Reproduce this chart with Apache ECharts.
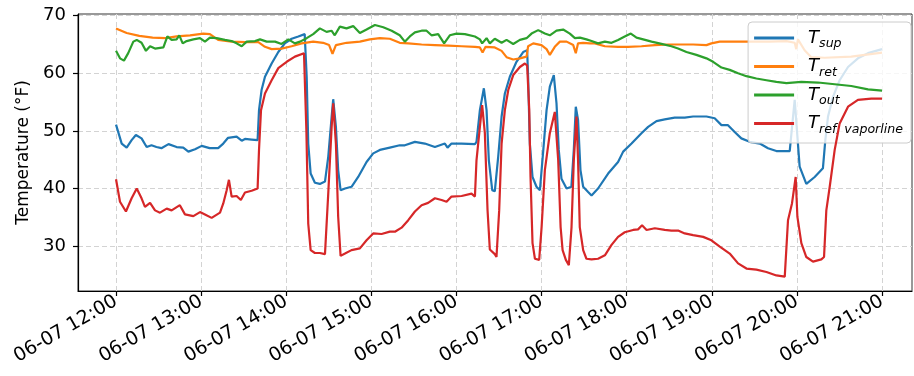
<!DOCTYPE html>
<html>
<head>
<meta charset="utf-8">
<script src="https://cdn.jsdelivr.net/npm/echarts@6/dist/echarts.min.js"></script>
<style>
  html, body { margin: 0; padding: 0; background: #ffffff; }
  #chart { width: 914px; height: 376px; }
</style>
</head>
<body>
<div id="chart"></div>
<script>
// Time is given in minutes after 06-07 12:00.
const hourTicks = [0, 60, 120, 180, 240, 300, 360, 420, 480, 540];
const hourLabels = ['06-07 12:00', '06-07 13:00', '06-07 14:00', '06-07 15:00', '06-07 16:00',
                    '06-07 17:00', '06-07 18:00', '06-07 19:00', '06-07 20:00', '06-07 21:00'];
const tempTicks = [30, 40, 50, 60, 70];

const seriesNames = ['T_sup', 'T_ret', 'T_out', 'T_ref,vaporline'];
const legendSubs = ['sup', 'ret', 'out', 'ref, vaporline'];

// Supply temperature
const tSup = [0,4,7.5,11,14,18,21.6,25,28.5,32,37,42.7,47.4,51,55.7,60.4,66,72,75.6,79,85,88.6,90.9,95.6,99.8,100.8,102.6,105,109.7,114.4,119,123.8,128.5,133,134.4,135.5,137.2,140.2,143.7,147.3,149.6,152,153.1,155,156.6,158.3,161.4,166,170.7,176.6,181.3,186,193,200,203.6,210.7,217.7,224.8,231.8,233.7,236.5,243.6,253,254.1,256.5,259.3,261.2,262.8,265.2,267,269.4,271.8,274.1,277.6,282.3,287,289.8,290.5,291.7,293.6,296.4,298.8,301,303.5,305.8,308.6,310.5,312.1,314,317.6,321,322.7,324.1,325.7,327.4,329.3,332.8,335.2,339.8,346.9,353.9,357.5,363.4,370.4,375.1,381,386.8,393.8,400.9,406.8,416.2,422,426.8,431.4,436.1,440.8,446.7,453.8,459.6,465.5,472.6,474.9,478.4,481.9,486.6,492.5,498.3,500,501.9,505.4,510.1,516,523,530.1,540];
const vSup = [51.1,47.8,47.1,48.4,49.3,48.7,47.2,47.5,47.2,47,47.7,47.2,47.1,46.4,46.8,47.4,47,47,47.8,48.8,49,48.3,48.6,48.5,48.4,53.6,57.1,59.4,61.7,63.7,65.2,66,66.4,66.8,59.4,47.8,42.6,41,40.8,41.2,45.5,52.5,55.5,50.7,43.2,39.7,40,40.3,42,44.6,46.1,46.7,47.1,47.5,47.5,48.1,47.8,47.2,47.8,47.1,47.8,47.8,47.7,48.1,53.6,57.4,53.6,44.9,39.7,39.5,45.5,52.5,56.5,59.4,62,63.7,64,59.4,47.8,42,40.3,39.7,46.1,53.6,57.7,59.7,54.8,46.7,41.7,40,40.3,46.7,54.2,51.9,43.2,40.3,39.4,38.8,40,42.6,44.6,46.4,47.8,49.6,50.7,51.7,52,52.3,52.3,52.5,52.5,52.2,51,51,49.8,48.7,48.1,47.8,47,46.5,46.5,46.5,55.4,43.8,40.8,42,43.5,48.4,52.5,55.9,58.8,61.1,62.6,63.5,64.2];

// Return temperature
const tRet = [0,7.5,16.4,25.8,35,42.7,52.2,61.5,66.2,72,81.5,90.9,100.3,105,109.7,116.7,123.8,130.8,139,146,150.2,152.6,155,162.5,171.9,178.9,186,193,200,206,215.4,224.8,234.2,243.6,253,256.5,258.4,260.5,267,271.8,275.3,280,284.7,289.4,290.5,294.1,299.9,303.5,305.8,309.3,312.9,317.6,322.3,324.1,325.7,329.3,334,337.5,344.6,353.9,361,370.4,379.8,389.2,400.9,406.8,416.2,419.7,425.6,437.3,449.1,460.8,472.6,478.4,479.5,480.7,485.4,490.1,499.5,518.3,540];
const vRet = [67.8,67,66.5,66.2,66.1,66.4,66.6,66.9,66.8,65.8,65.5,65.4,65.4,64.6,64.2,64.3,64.7,65.2,65.5,65.3,64.9,63.4,64.9,65.3,65.5,65.9,66.1,66,65.3,65.2,65,64.9,64.8,64.7,64.6,64.5,63.6,64.6,64.5,63.9,62.8,62.4,62.6,62.9,64.7,65.2,64.9,64.2,63.2,64.6,65.5,65.5,64.9,63.5,65.2,65.3,65.2,65.2,64.7,64.6,64.6,64.7,64.9,65,65,65,64.9,65.2,65.5,65.5,65.5,65.5,65.6,65.3,64.2,65.9,64,62.8,62.7,62.9,63.6];

// Outdoor temperature
const tOut = [0,2.8,5.6,8.6,12.2,14.6,18,21.1,24,27.5,33.4,36.2,39.2,42.7,44.6,47,49.8,54.5,59.2,62.7,66.2,70.9,76.8,81.5,85,88.6,92.1,98,101.5,106.2,112.1,116.7,121.5,126.1,129.7,134.4,139,143.7,148.4,151.9,154.2,157.8,162.5,167.2,171.9,176.6,182.5,188.4,194.3,200,203.6,207.1,210.7,215.4,218.9,222.4,227.1,231.3,235.3,240,245.9,253,256.5,258.1,261.2,263.5,267,271.8,275.3,280,284.7,289.4,292.9,297.6,302.3,305.8,310.5,315.2,319.9,323.5,327,331.6,335.2,339.8,344.6,349.3,353.9,358.6,362.9,366.9,371.6,377.5,384.5,391.5,396.2,402.1,409.1,416.2,420.9,426.8,432.6,438.5,444.4,451.4,458.5,465.5,472.6,483.1,494.9,506.6,518.3,530.1,540];
const vOut = [63.9,62.6,62.2,63.5,65.5,65.8,65.3,63.9,64.7,64.3,64.5,66.4,65.8,65.9,66.6,65.2,65.6,65.9,66.1,65.5,66.2,66.1,65.8,65.6,65.2,64.7,65.5,65.6,65.9,65.5,65.5,65.1,65.9,65.2,65.5,66.1,66.8,67.8,67.2,67.4,66.6,68.1,67.8,68.2,67,67.6,68.4,68,67.4,66.6,65.5,66.4,67.1,67.4,67.4,66.6,66.8,65.2,66.6,66.9,66.8,66.4,65.9,65.2,66.1,65.2,66,65.3,65.8,65.1,65.8,66.1,66.9,67.5,66.9,66.6,67.4,67.6,66.9,66.1,66.2,65.9,65.6,65.2,65.5,65.3,65.8,66.4,66.9,66.2,65.9,65.5,65.1,64.7,64.3,63.7,63.2,62.6,62,61,60.6,60,59.5,59.1,58.8,58.5,58.3,58.5,58.4,58.1,57.8,57.2,57];

// Refrigerant vapor-line temperature
const tRef = [0,2.8,7,11,14.6,18,20.4,24,27.5,31,35.7,39.2,45,48.6,54.5,59.2,62.7,67.4,73.3,75.6,78,79.6,81.5,85,88,90.9,95.6,99.8,100.8,102.2,105,109.7,114.4,120.3,126.1,132.5,134.2,135.5,137.2,140.2,143.7,147.3,149.6,152,153.1,155,156.6,158.3,161.4,166,171.9,176.6,181.3,187.2,193,196.6,201.3,206,210.7,215.4,220,224.8,229.5,233,236.5,243.6,250.6,253,254.1,256.5,258.1,260,261.9,263.5,267,268.2,270.1,271.8,274.1,276.5,280,284.7,288.2,289.8,291.3,292.2,293.6,295.3,298.3,300,302.3,305.8,309.3,311.7,313.4,314.8,317.1,319.2,321.1,322.7,324.6,325.7,326.9,329.3,331.6,335.2,339.8,344.6,349.3,353.9,358.6,364.5,368,370.8,374,379.8,386.8,391.5,396.2,400.9,406.8,413.9,419.7,425.6,432.6,438.5,444.4,451.4,458.5,465.5,471.4,473.7,476.5,479.1,480.3,483.1,486.6,491.3,497.2,499.1,500.7,503.1,506.6,510.1,516,523,532.4,540];
const vRef = [41.6,37.7,36,38.3,40,38.3,36.8,37.5,36.2,35.8,36.5,36.2,37.1,35.5,35.2,35.9,35.5,34.9,35.8,37.4,39.7,41.5,38.6,38.7,38,39.3,39.6,40,46.7,53.6,56.5,58.8,60.9,62,62.9,63.5,50,33.9,29.3,28.8,28.8,28.6,39.1,50.7,54.8,47.8,35.1,28.3,28.7,29.3,29.6,31,32.2,32.1,32.5,32.5,33.2,34.5,36,37.1,37.5,38.3,38,37.7,38.6,38.7,39.1,38.6,44.9,50.7,54.5,49.6,36.2,29.4,28.6,28.1,36.2,47.8,53.6,57.1,59.7,61.1,61.7,61.4,53.6,42,30.5,27.8,27.6,33.3,43.2,49.6,53.3,44.9,33.3,29.3,27.6,26.7,33.3,44.9,52.5,44.9,33.3,29.3,27.8,27.7,27.8,28.4,30.2,31.6,32.4,32.8,32.9,33.6,32.8,33.1,32.8,32.7,32.7,32.2,31.9,31.6,31,29.9,28.7,27,26.1,25.9,25.5,24.9,24.7,34.5,37.4,42,35.1,30.5,28.1,27.3,27.7,28.1,36.2,40.3,46.7,51.3,54.2,55.4,55.6,55.6];

const colors = ['#1f77b4', '#ff7f0e', '#2ca02c', '#d62728'];
const times = [tSup, tRet, tOut, tRef];
const values = [vSup, vRet, vOut, vRef];

const FONT = 'DejaVu Sans';

function pairs(t, v) {
  return t.map((x, i) => [x, v[i]]);
}

const chart = echarts.init(document.getElementById('chart'), null, { renderer: 'canvas' });

const gridDash = { color: '#d3d3d3', width: 1, type: [5, 3] };

chart.setOption({
  animation: false,
  backgroundColor: '#ffffff',
  grid: {
    left: 78, right: 2, top: 14, bottom: 85,
    show: true, borderColor: '#333333', borderWidth: 1, backgroundColor: 'transparent'
  },
  xAxis: {
    type: 'value',
    min: -26.8,
    max: 561.1,
    axisLine: { show: true, onZero: false, lineStyle: { color: '#000000', width: 1.2 } },
    axisTick: { show: true, customValues: hourTicks, length: 5, lineStyle: { color: '#000000', width: 1.2 } },
    splitLine: { show: true, customValues: hourTicks, lineStyle: gridDash },
    axisLabel: {
      customValues: hourTicks,
      rotate: 30,
      margin: 9,
      fontFamily: FONT,
      fontSize: 19,
      color: '#000000',
      formatter: v => hourLabels[hourTicks.indexOf(v)]
    }
  },
  yAxis: {
    type: 'value',
    min: 22.2,
    max: 70.3,
    name: 'Temperature (°F)',
    nameLocation: 'middle',
    nameGap: 46,
    nameTextStyle: { fontFamily: FONT, fontSize: 17, color: '#000000' },
    axisLine: { show: true, onZero: false, lineStyle: { color: '#000000', width: 1.2 } },
    axisTick: { show: true, customValues: tempTicks, length: 5, lineStyle: { color: '#000000', width: 1.2 } },
    splitLine: { show: true, customValues: tempTicks, lineStyle: gridDash },
    axisLabel: {
      customValues: tempTicks,
      margin: 12,
      fontFamily: FONT,
      fontSize: 18,
      color: '#000000'
    }
  },
  legend: {
    orient: 'vertical',
    right: 3,
    top: 22,
    data: seriesNames,
    icon: 'rect',
    backgroundColor: 'rgba(255,255,255,0.8)',
    borderColor: '#cccccc',
    borderWidth: 1,
    borderRadius: 4,
    padding: [7, 8, 7, 6],
    itemWidth: 40,
    itemHeight: 3,
    itemGap: 7,
    formatter: name => '{t|T}{s|' + legendSubs[seriesNames.indexOf(name)] + '}',
    textStyle: {
      color: '#000000',
      rich: {
        t: { fontFamily: FONT, fontStyle: 'italic', fontSize: 18, lineHeight: 22, padding: [0, 0, 0, 9] },
        s: { fontFamily: FONT, fontStyle: 'italic', fontSize: 12.6, padding: [12, 0, 0, 0] }
      }
    }
  },
  series: seriesNames.map((name, i) => ({
    name: name,
    type: 'line',
    data: pairs(times[i], values[i]),
    symbol: 'none',
    color: colors[i],
    lineStyle: { width: 2.2, color: colors[i] },
    z: 2 + i
  }))
});
</script>
</body>
</html>
